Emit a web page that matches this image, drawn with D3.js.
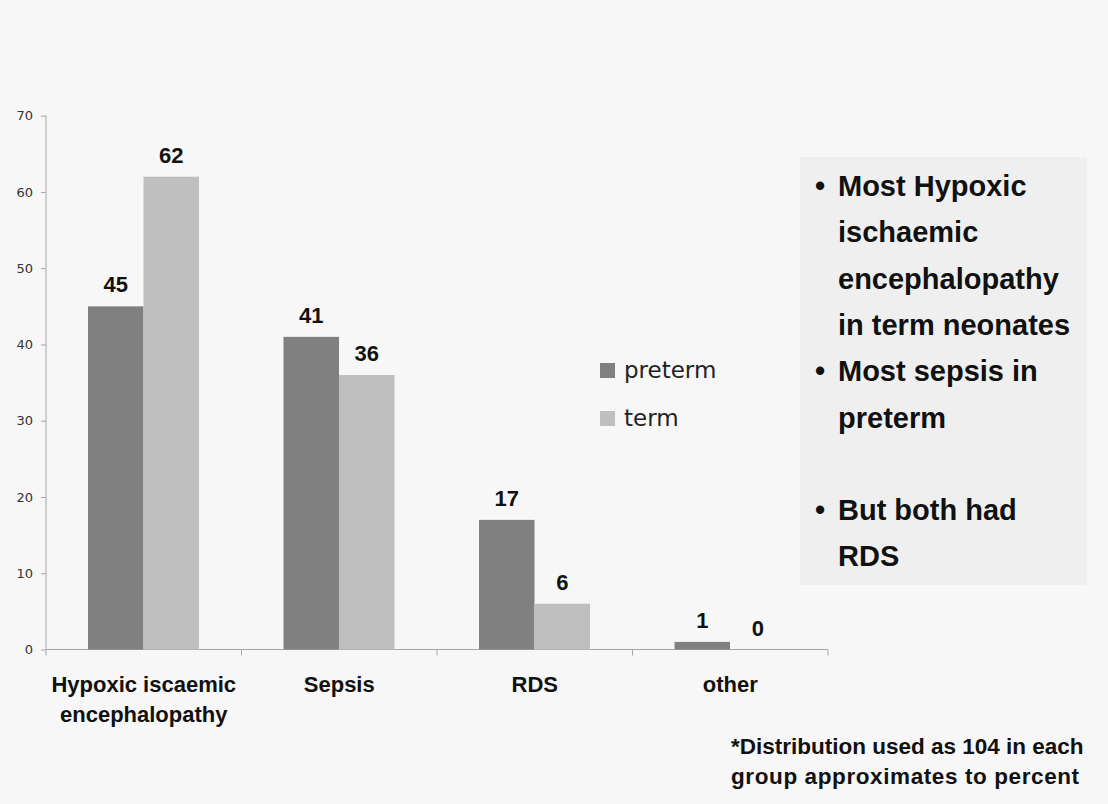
<!DOCTYPE html>
<html>
<head>
<meta charset="utf-8">
<script src="https://cdn.jsdelivr.net/npm/d3@7"></script>
<style>
  html, body { margin: 0; padding: 0; background: #f7f7f7; }
  svg { display: block; }
  .tick text { font-family: "DejaVu Sans", Verdana, sans-serif; font-size: 13px; fill: #333; }
  .bold { font-family: "Liberation Sans", Arial, sans-serif; font-weight: bold; fill: #111; }
</style>
</head>
<body>
<svg id="chart" width="1108" height="804"></svg>
<script>
// data
const categories = ["Hypoxic iscaemic encephalopathy", "Sepsis", "RDS", "other"];
const categoryLines = [["Hypoxic iscaemic", "encephalopathy"], ["Sepsis"], ["RDS"], ["other"]];
const series = ["preterm", "term"];
const preterm = [45, 41, 17, 1];
const term = [62, 36, 6, 0];
const yTicks = [0, 10, 20, 30, 40, 50, 60, 70];
const notes = [
  ["Most Hypoxic", "ischaemic", "encephalopathy", "in term neonates"],
  ["Most sepsis in", "preterm"],
  [],
  ["But both had", "RDS"],
];
const footnote = ["*Distribution used as 104 in each", "group approximates to percent"];

const colors = { preterm: "#808080", term: "#bfbfbf" };
const values = { preterm, term };

const svg = d3.select("#chart");

const x0 = d3.scaleBand().domain(categories).range([46, 828]);
const x1 = d3.scaleBand().domain(series).range([42, 153]);
const y = d3.scaleLinear().domain([0, 70]).range([649.5, 115.7]);

// y axis
const yAxis = svg.append("g")
  .attr("transform", "translate(46,0)")
  .call(d3.axisLeft(y).tickValues(yTicks).tickSize(5).tickPadding(8));
yAxis.selectAll("line, path").attr("stroke", "#a6a6a6");
yAxis.select(".domain").attr("d", `M0,${y(70)}V${y(0)}`);

// x axis line with ticks at category boundaries
const xg = svg.append("g");
xg.append("line")
  .attr("x1", 46).attr("x2", 828).attr("y1", y(0)).attr("y2", y(0))
  .attr("stroke", "#a6a6a6");
xg.selectAll("line.sep")
  .data(categories.map((c) => x0(c)).concat([x0.range()[1]]))
  .enter().append("line")
  .attr("class", "sep")
  .attr("x1", (d) => d).attr("x2", (d) => d)
  .attr("y1", y(0)).attr("y2", y(0) + 6)
  .attr("stroke", "#a6a6a6");

// bars
const groups = svg.append("g").selectAll("g")
  .data(categories)
  .enter().append("g")
  .attr("transform", (d) => `translate(${x0(d)},0)`);

groups.selectAll("rect")
  .data((d, i) => series.map((s) => ({ s, v: values[s][i] })))
  .enter().append("rect")
  .attr("x", (d) => x1(d.s))
  .attr("width", x1.bandwidth())
  .attr("y", (d) => y(d.v))
  .attr("height", (d) => y(0) - y(d.v))
  .attr("fill", (d) => colors[d.s]);

groups.selectAll("text.val")
  .data((d, i) => series.map((s) => ({ s, v: values[s][i] })))
  .enter().append("text")
  .attr("class", "val bold")
  .attr("x", (d) => x1(d.s) + x1.bandwidth() / 2)
  .attr("y", (d) => y(d.v) - 14)
  .attr("text-anchor", "middle")
  .style("font-size", "22px")
  .text((d) => d.v);

// category labels
groups.append("text")
  .attr("class", "bold")
  .attr("text-anchor", "middle")
  .style("font-size", "22px")
  .selectAll("tspan")
  .data((d, i) => categoryLines[i])
  .enter().append("tspan")
  .attr("x", x0.bandwidth() / 2)
  .attr("y", (d, i) => 692 + i * 30)
  .text((d) => d);

// legend
const legend = svg.append("g").selectAll("g")
  .data(series)
  .enter().append("g")
  .attr("transform", (d, i) => `translate(600,${363 + i * 48})`);
legend.append("rect").attr("width", 15).attr("height", 15).attr("fill", (d) => colors[d]);
legend.append("text")
  .attr("x", 24).attr("y", 15)
  .style("font-family", "'DejaVu Sans', Verdana, sans-serif")
  .style("font-size", "23px")
  .attr("fill", "#222")
  .text((d) => d);

// notes box
svg.append("rect")
  .attr("x", 800).attr("y", 157).attr("width", 287).attr("height", 428)
  .attr("fill", "#efefef");
let row = 0;
const noteG = svg.append("g");
notes.forEach((lines) => {
  if (!lines.length) { row += 1; return; }
  lines.forEach((line, j) => {
    const yy = 196 + row * 46.3;
    if (j === 0) {
      noteG.append("text").attr("class", "bold")
        .attr("x", 820).attr("y", yy).attr("text-anchor", "middle")
        .style("font-size", "29px").text("\u2022");
    }
    noteG.append("text").attr("class", "bold")
      .attr("x", 838).attr("y", yy)
      .style("font-size", "29px").text(line);
    row += 1;
  });
});

// footnote
svg.append("g").selectAll("text")
  .data(footnote)
  .enter().append("text")
  .attr("class", "bold")
  .attr("x", 731).attr("y", (d, i) => 754 + i * 29.5)
  .style("font-size", "22.5px")
  .style("letter-spacing", (d, i) => (i === 1 ? "0.6px" : "0px"))
  .text((d) => d);
</script>
</body>
</html>
